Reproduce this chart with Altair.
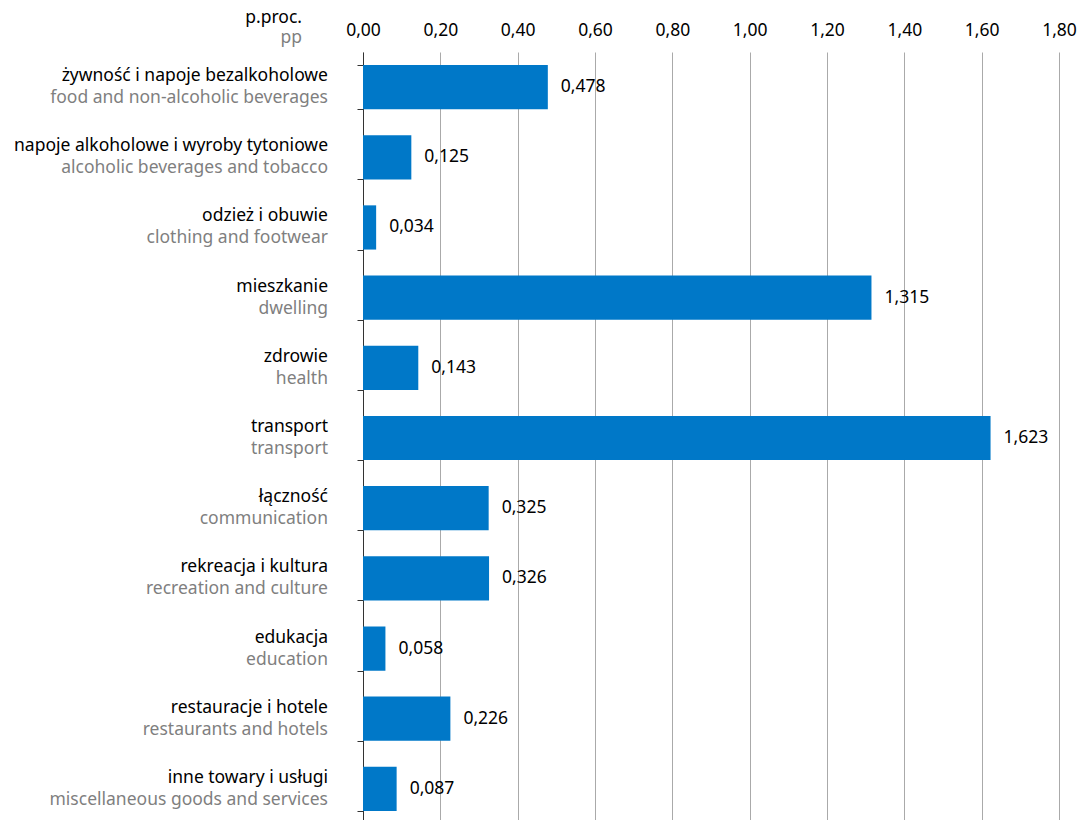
import altair as alt
import pandas as pd

cat_pl = ["żywność i napoje bezalkoholowe", "napoje alkoholowe i wyroby tytoniowe",
          "odzież i obuwie", "mieszkanie", "zdrowie", "transport", "łączność",
          "rekreacja i kultura", "edukacja", "restauracje i hotele", "inne towary i usługi"]
cat_en = ["food and non-alcoholic beverages", "alcoholic beverages and tobacco",
          "clothing and footwear", "dwelling", "health", "transport", "communication",
          "recreation and culture", "education", "restaurants and hotels",
          "miscellaneous goods and services"]
values = [0.478, 0.125, 0.034, 1.315, 0.143, 1.623, 0.325, 0.326, 0.058, 0.226, 0.087]
ticks = [0, 0.2, 0.4, 0.6, 0.8, 1.0, 1.2, 1.4, 1.6, 1.8]

df = pd.DataFrame({"pl": cat_pl, "en": cat_en, "v": values})
FONT = "Noto Sans"
FS = 17.5
order = cat_pl

y = alt.Y("pl:N", sort=order,
          scale=alt.Scale(paddingInner=0.37, paddingOuter=0.185),
          axis=alt.Axis(title=None, labels=False, domainColor="#333", tickColor="#333",
                        tickBand="extent", tickSize=6, grid=False))
x = alt.X("v:Q", scale=alt.Scale(domain=[0, 1.8], nice=False),
          axis=alt.Axis(orient="top", title=None, values=ticks,
                        labelExpr="replace(format(datum.value, '.2f'), '.', ',')",
                        labelFlush=False, labelOverlap=False,
                        domain=False, ticks=False, gridColor="#aaaaaa", gridWidth=1,
                        labelFont=FONT, labelFontSize=FS, labelColor="#000", labelPadding=13))

base = alt.Chart(df)
bars = base.mark_bar(color="#0078c8").encode(x=x, y=y)
vals = base.transform_calculate(
    lab="replace(format(datum.v, '.3f'), '.', ',')"
).mark_text(align="left", baseline="middle", dx=13, font=FONT, fontSize=FS, color="#000").encode(
    x="v:Q", y=alt.Y("pl:N", sort=order), text="lab:N")
lab_pl = base.mark_text(align="right", baseline="middle", dy=-11, font=FONT, fontSize=FS, color="#000").encode(
    x=alt.value(-35), y=alt.Y("pl:N", sort=order), text="pl:N")
lab_en = base.mark_text(align="right", baseline="middle", dy=11, font=FONT, fontSize=FS, color="#7f7f7f").encode(
    x=alt.value(-35), y=alt.Y("pl:N", sort=order), text="en:N")
unit_pl = alt.Chart(pd.DataFrame({"t": ["p.proc."]})).mark_text(
    align="right", baseline="alphabetic", font=FONT, fontSize=FS, color="#000").encode(
    x=alt.value(-61), y=alt.value(-29), text="t:N")
unit_en = alt.Chart(pd.DataFrame({"t": ["pp"]})).mark_text(
    align="right", baseline="alphabetic", font=FONT, fontSize=FS, color="#7f7f7f").encode(
    x=alt.value(-61), y=alt.value(-9), text="t:N")

chart = alt.layer(bars, vals, lab_pl, lab_en, unit_pl, unit_en).properties(
    width=696, height=772,
    autosize=alt.AutoSizeParams(type="none"),
    padding={"left": 355, "top": 44, "right": 20, "bottom": 0},
).configure_view(stroke=None)

chart.save("out.html", embed_options={"renderer": "svg", "actions": False})
